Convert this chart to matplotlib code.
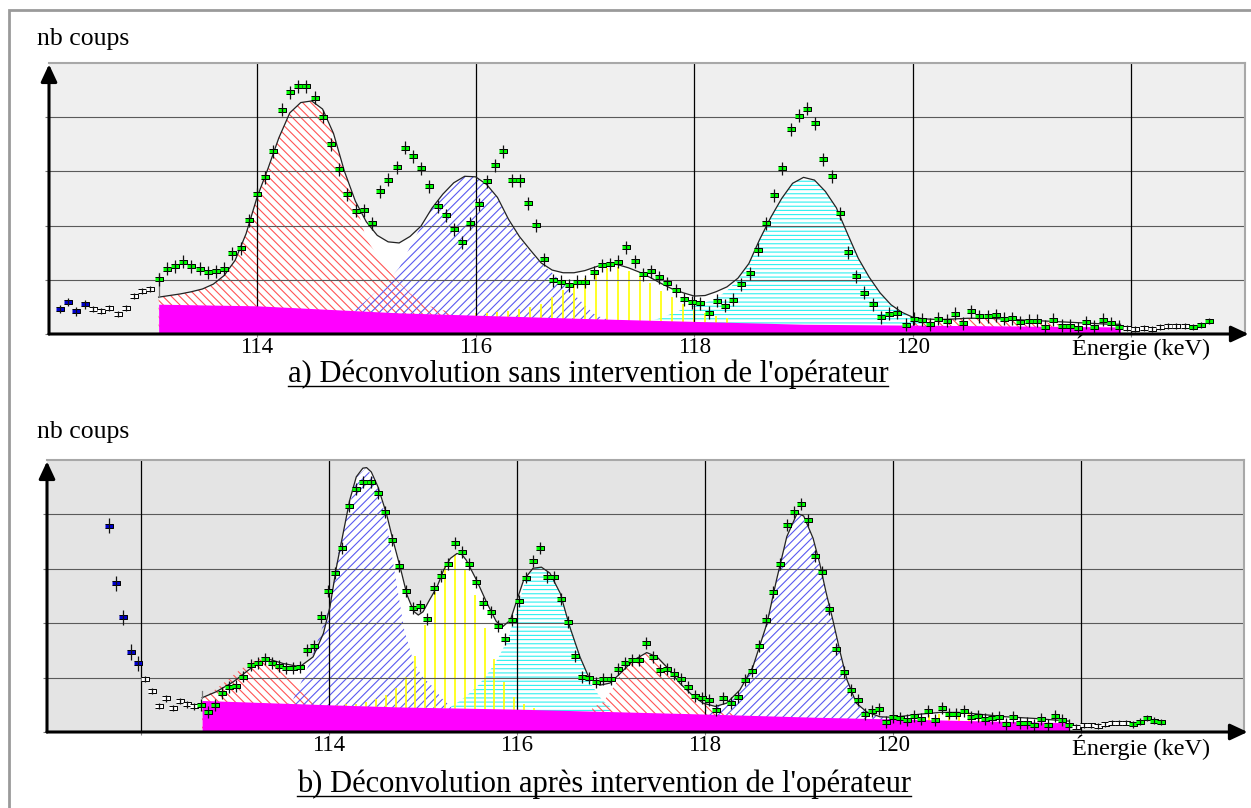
import numpy as np
import matplotlib
matplotlib.use("Agg")
import matplotlib.pyplot as plt
from matplotlib.lines import Line2D
from matplotlib.patches import Rectangle

plt.rcParams['font.family'] = ['Liberation Serif', 'DejaVu Serif']
plt.rcParams['hatch.linewidth'] = 0.8

CH = 0.0751  # channel width (keV)

# ---------------- panel a : deconvolution sans intervention ----------------
a_e0 = 112.198
a_left_blue = [46, 59, 42, 55]
a_left_white = [46, 42, 48, 37, 48, 70, 79, 83]
a_green = [101, 120, 125, 133, 125, 120, 114, 116, 120, 149,
           158, 210, 258, 289, 337, 414, 446, 457, 457, 436,
           401, 350, 304, 258, 227, 228, 204, 263, 285, 308,
           344, 328, 306, 273, 236, 219, 193, 169, 204, 239,
           282, 311, 337, 284, 284, 241, 201, 138, 99, 96,
           90, 96, 96, 114, 127, 129, 133, 160, 134, 110,
           116, 105, 94, 81, 64, 59, 57, 39, 61, 52,
           63, 92, 112, 155, 204, 256, 306, 378, 403, 416,
           389, 322, 291, 223, 151, 107, 76, 55, 31, 37,
           39, 17, 28, 26, 18, 28, 24, 37, 20, 42,
           33, 33, 35, 28, 29, 22, 24, 24, 13, 26,
           15, 15, 11, 22, 13, 26, 20, 13]
a_right_white = [11, 9, 11, 9, 13, 15, 15, 15]
a_right_green = [13, 17, 24]

a_fit_x0 = 113.1   # step 0.1 keV
a_fit = [68, 71, 74, 78, 83, 92, 108, 136, 185, 252,
         305, 362, 408, 427, 430, 415, 370, 300, 245, 207,
         182, 170, 168, 180, 199, 232, 258, 279, 291, 290,
         276, 252, 212, 180, 155, 131, 118, 113, 113, 117,
         124, 130, 128, 122, 114, 104, 93, 83, 76, 70,
         71, 78, 87, 103, 130, 175, 215, 250, 278, 289,
         284, 263, 233, 186, 140, 105, 76, 54, 40, 31,
         28, 27, 27, 28, 29, 29, 29, 28, 27, 26,
         25, 24, 23, 22, 21, 20, 19, 18, 18]
a_bg_e = [113.1, 114.0, 115.3, 117.1, 119.0, 120.8, 121.9]
a_bg = [55, 52, 39, 28, 18, 15, 13]

a_red_x0 = 113.1
a_red = [68, 71, 74, 78, 83, 92, 108, 136, 185, 252, 305, 362, 408, 427,
         430, 415, 370, 300, 243, 175, 145, 118, 95, 75, 60, 50, 44, 40]
a_blue_x0 = 114.9
a_blue = [45, 62, 80, 98, 122, 160, 199, 232, 258, 279, 291, 290, 276, 250,
          210, 178, 150, 130, 113, 93, 73, 53, 34, 28]
a_yel_x0 = 116.0
a_yel = [38, 38, 40, 43, 46, 50, 56, 68, 81, 93, 104, 113, 121, 123, 117,
         107, 94, 80, 68, 56, 45, 38, 33, 29]
a_cyan_x0 = 117.6
a_cyan = [24, 30, 38, 46, 52, 58, 66, 80, 100, 130, 175, 215, 250, 278, 289,
          284, 263, 233, 186, 140, 105, 76, 54, 40, 31, 25, 20]
a_red2_x0 = 120.0
a_red2 = [22, 24, 26, 27, 28, 29, 29, 29, 28, 27, 26, 24, 22, 19, 17, 15]

# ---------------- panel b : deconvolution apres intervention ----------------
b_e0 = 111.663
b_left_blue = [379, 273, 211, 147, 126]
b_left_white = [97, 75, 48, 62, 44, 57, 51, 47]
b_green = [50, 37, 50, 71, 82, 85, 102, 123, 127, 135,
           126, 122, 117, 118, 120, 151, 159, 211, 260, 293,
           339, 416, 447, 460, 460, 440, 404, 353, 306, 259,
           228, 232, 207, 265, 287, 309, 347, 330, 308, 276,
           238, 221, 195, 171, 205, 240, 284, 314, 339, 285,
           285, 244, 203, 140, 101, 99, 91, 97, 97, 115,
           127, 132, 132, 163, 137, 114, 116, 107, 97, 82,
           66, 62, 59, 41, 63, 54, 64, 95, 113, 158,
           206, 258, 309, 380, 405, 420, 390, 323, 294, 226,
           152, 110, 78, 58, 33, 39, 42, 18, 28, 26,
           22, 29, 24, 39, 22, 45, 34, 34, 39, 28,
           30, 24, 26, 27, 14, 27, 17, 17, 12, 24,
           13, 29, 22, 13]
b_right_white = [10, 12, 12, 11, 14, 17, 17, 17]
b_right_green = [14, 19, 26, 21, 18]

b_fit_e = [112.65, 112.8, 112.98, 113.1, 113.19, 113.34, 113.51, 113.69, 113.83, 113.94,
           114.01, 114.08, 114.15, 114.22, 114.29, 114.36, 114.40, 114.45, 114.52, 114.61,
           114.68, 114.76, 114.83, 114.90, 114.95, 115.00, 115.07, 115.15, 115.22, 115.29,
           115.36, 115.41, 115.46, 115.57, 115.68, 115.78, 115.85, 115.93, 116.00, 116.07,
           116.17, 116.26, 116.35, 116.46, 116.56, 116.67, 116.76, 116.88, 116.99, 117.10,
           117.24, 117.38, 117.49, 117.59, 117.73, 117.88, 117.98, 118.11, 118.23, 118.37,
           118.51, 118.66, 118.76, 118.87, 118.98, 119.05, 119.15, 119.22, 119.29, 119.36,
           119.44, 119.51, 119.61, 119.72, 119.86, 120.0, 120.3, 120.5, 120.7, 120.9,
           121.2, 121.5, 121.87]
b_fit = [63, 74, 92, 108, 120, 135, 126, 120, 138, 181,
         230, 304, 365, 426, 469, 485, 486, 478, 451, 402,
         353, 301, 252, 222, 215, 221, 243, 267, 298, 319,
         328, 327, 316, 279, 237, 203, 194, 206, 243, 279,
         301, 303, 292, 255, 194, 138, 102, 86, 90, 108,
         132, 146, 138, 120, 90, 65, 53, 47, 53, 77,
         120, 200, 279, 359, 402, 397, 356, 310, 255, 206,
         145, 96, 53, 37, 28, 27, 33, 36, 36, 33,
         28, 25, 20]
b_bg_e = [112.65, 114.0, 114.76, 116.0, 118.0, 119.2, 120.0, 121.87]
b_bg = [58, 50, 46, 42, 33, 27, 24, 17]

b_red_x0 = 112.65
b_red = [63, 73, 86, 100, 114, 126, 134, 133, 122, 105, 85, 66, 52]
b_blue_x0 = 113.5
b_blue = [50, 53, 90, 130, 178, 228, 330, 405, 470, 486, 458, 398, 292, 188,
          128, 100, 84, 62, 46]
b_yel_x0 = 114.08   # step 0.105 keV
b_yel = [50, 51, 52, 56, 60, 68, 80, 102, 140, 197, 258, 304, 325, 299, 252,
         191, 135, 91, 65, 52, 45]
b_cyan_x0 = 115.3
b_cyan = [47, 58, 72, 88, 110, 136, 170, 224, 286, 302, 299, 278, 232, 178,
          125, 85, 60, 45]
b_red2_x0 = 116.8
b_red2 = [46, 52, 75, 105, 125, 140, 146, 136, 118, 97, 77, 61, 50, 42, 37, 34]
b_blue2_x0 = 118.0
b_blue2 = [38, 45, 52, 63, 85, 118, 165, 232, 310, 375, 402, 380, 325, 245,
           175, 106, 57, 40, 30, 27, 25]
b_yel2_x0 = 120.28
b_yel2 = [28, 31, 34, 35, 35, 33, 31, 28]

RED = '#FF5555'
BLUE = '#5A5AF0'
CYAN = '#30F0F0'
YEL = '#FFFF00'
MAG = '#FF00FF'
RECT = [(-1, -0.5), (1, -0.5), (1, 0.5), (-1, 0.5)]


def xs(x0, vals, step=0.1):
    return x0 + step * np.arange(len(vals))


def hatch(ax, x0, vals, color, pat):
    ax.fill_between(xs(x0, vals), 0, vals, facecolor='none', edgecolor=color,
                    hatch=pat, linewidth=0, zorder=1.2)


def points(ax, e0, groups, ms):
    i = 0
    for vals, face, err in groups:
        x = e0 + CH * (i + np.arange(len(vals)))
        ax.plot(x, vals, ls='none', marker=RECT, ms=ms, mfc=face, mec='black',
                mew=0.7, zorder=4.8)
        ax.errorbar(x, vals, yerr=err, fmt='none', ecolor='#111111',
                    elinewidth=0.9, zorder=5)
        i += len(vals)


def frame(ax, xlim, face, vgrid):
    ax.set_xlim(*xlim)
    ax.set_ylim(0, 500)
    ax.set_facecolor(face)
    for y in [100, 200, 300, 400]:
        ax.axhline(y, color='#5A5A5A', lw=0.8, zorder=1.5)
    for v in vgrid:
        ax.axvline(v, color='black', lw=0.9, zorder=1.5)
    for s in ['top', 'right']:
        ax.spines[s].set_color('#A8A8A8')
        ax.spines[s].set_linewidth(1.5)
    for s in ['left', 'bottom']:
        ax.spines[s].set_visible(False)
    ax.set_yticks([0, 100, 200, 300, 400])
    ax.tick_params(axis='y', length=3, color='#777777', labelleft=False)
    ax.set_xticks(vgrid)
    ax.set_xticklabels([str(v) if 113 < v < 121 else '' for v in vgrid],
                       fontsize=16.5)
    ax.tick_params(axis='x', length=2.5, color='#888888', pad=0)
    arrow = dict(arrowstyle='-|>,head_length=0.75,head_width=0.35', lw=2.2,
                 color='black', shrinkA=0, shrinkB=0, mutation_scale=14)
    ax.annotate('', xy=(1.003, 0), xytext=(0, 0), xycoords='axes fraction',
                arrowprops=arrow, annotation_clip=False, zorder=6)
    ax.annotate('', xy=(0, 0.995), xytext=(0, 0), xycoords='axes fraction',
                arrowprops=arrow, annotation_clip=False, zorder=6)


W, H = 1251, 808
fig = plt.figure(figsize=(W / 100, H / 100), dpi=100)
fig.patches.append(Rectangle((9 / W, -0.05), 1.1, 1 - 10 / H + 0.05,
                             transform=fig.transFigure, fill=False,
                             edgecolor='#9A9A9A', lw=2))

axa = fig.add_axes([49 / W, 1 - 334 / H, (1245 - 49) / W, (334 - 63) / H])
axb = fig.add_axes([47 / W, 1 - 732 / H, (1244 - 47) / W, (732 - 460) / H])

# panel a
frame(axa, (112.097, 123.039), '#EFEFEF', [114, 116, 118, 120, 122])
fx = xs(a_fit_x0, a_fit)
axa.fill_between(fx, 0, a_fit, color='white', lw=0, zorder=1)
hatch(axa, a_red_x0, a_red, RED, '\\\\\\\\')
hatch(axa, a_blue_x0, a_blue, BLUE, '////')
hatch(axa, a_cyan_x0, a_cyan, CYAN, '----')
hatch(axa, a_red2_x0, a_red2, RED, '\\\\\\\\')
axa.vlines(xs(a_yel_x0, a_yel), 0, a_yel, colors=YEL, lw=1.2, zorder=1.3)
axa.fill_between(a_bg_e, 0, a_bg, color=MAG, lw=0, zorder=2)
axa.plot(fx, a_fit, color='#222222', lw=0.9, zorder=3)
axa.plot([a_fit_x0, a_fit_x0], [a_fit[0], a_fit[0] + 45], color='#777777', lw=0.9, zorder=3)
points(axa, a_e0, [(a_left_blue, '#0000CC', 8), (a_left_white, 'white', 6),
                   (a_green, '#00FF00', 12), (a_right_white, 'white', 5),
                   (a_right_green, '#00FF00', 6)], 6)

# panel b
frame(axb, (111.0, 123.734), '#E4E4E4', [112, 114, 116, 118, 120, 122])
axb.fill_between(b_fit_e, 0, b_fit, color='white', lw=0, zorder=1)
hatch(axb, b_red_x0, b_red, RED, '\\\\\\\\')
hatch(axb, b_blue_x0, b_blue, BLUE, '////')
hatch(axb, b_cyan_x0, b_cyan, CYAN, '----')
hatch(axb, b_red2_x0, b_red2, RED, '\\\\\\\\')
hatch(axb, b_blue2_x0, b_blue2, BLUE, '////')
axb.vlines(xs(b_yel_x0, b_yel, 0.105), 0, b_yel, colors=YEL, lw=1.2, zorder=1.3)
axb.vlines(xs(b_yel2_x0, b_yel2, 0.105), 0, b_yel2, colors=YEL, lw=1.2, zorder=1.3)
axb.fill_between(b_bg_e, 0, b_bg, color=MAG, lw=0, zorder=2)
axb.plot(b_fit_e, b_fit, color='#222222', lw=0.9, zorder=3)
axb.plot([b_fit_e[0], b_fit_e[0]], [b_fit[0], b_fit[0] + 12], color='#777777', lw=0.9, zorder=3)
points(axb, b_e0, [(b_left_blue, '#0000CC', 14), (b_left_white, 'white', 6),
                   (b_green, '#00FF00', 11), (b_right_white, 'white', 5),
                   (b_right_green, '#00FF00', 6)], 5.5)

# texts
fig.text(37 / W, 1 - 45 / H, 'nb coups', fontsize=18.5, va='baseline')
fig.text(37 / W, 1 - 438 / H, 'nb coups', fontsize=18.5, va='baseline')
fig.text(1141 / W, 1 - 347 / H, 'Énergie (keV)', fontsize=17.5, ha='center', va='center')
fig.text(1141 / W, 1 - 747 / H, 'Énergie (keV)', fontsize=17.5, ha='center', va='center')

fig.canvas.draw()
r = fig.canvas.get_renderer()
# keep title a) just below the tick labels of panel a
tick_bottom = min(t.get_window_extent(r).y0 for t in axa.get_xticklabels() if t.get_text())
ta = fig.text(588 / W, (tick_bottom - 1) / H, "a) Déconvolution sans intervention de l'opérateur",
              fontsize=22, ha='center', va='top')
tb = fig.text(604 / W, 1 - 792 / H, "b) Déconvolution après intervention de l'opérateur",
              fontsize=22, ha='center', va='baseline')

fig.canvas.draw()
for t in (ta, tb):
    bb = t.get_window_extent(r)
    y = (bb.y0 + 3) / H
    fig.add_artist(Line2D([bb.x0 / W, bb.x1 / W], [y, y], transform=fig.transFigure,
                          color='black', lw=1))

fig.savefig('out.png', dpi=100)
